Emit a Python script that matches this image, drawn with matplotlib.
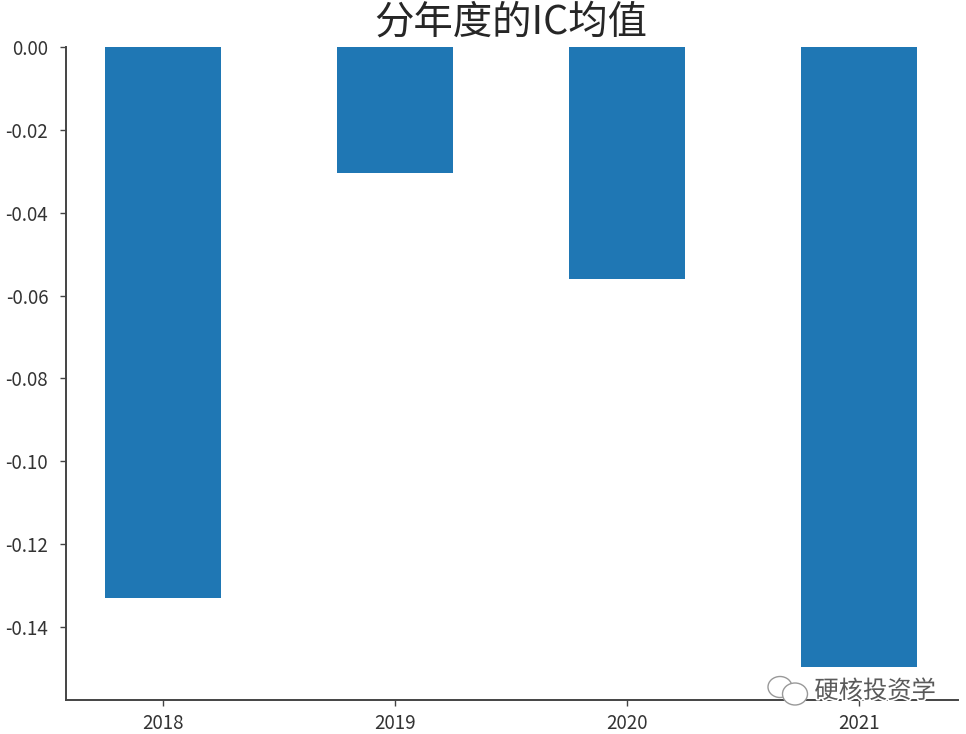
import matplotlib
matplotlib.use("Agg")
import matplotlib.pyplot as plt
import matplotlib.patheffects as pe
from matplotlib.patches import Ellipse

plt.rcParams['font.family'] = ['Noto Sans CJK SC', 'DejaVu Sans']
plt.rcParams['axes.unicode_minus'] = False

years = ['2018', '2019', '2020', '2021']
ic_mean = [-0.1331, -0.0304, -0.0559, -0.1496]
yticks = [0.00, -0.02, -0.04, -0.06, -0.08, -0.10, -0.12, -0.14]
title = '分年度的IC均值'
watermark = '硬核投资学'

W, H = 966, 734
fig = plt.figure(figsize=(W/100, H/100), dpi=100)
ax = fig.add_axes([66/W, 1-700/H, (958-66)/W, (700-47)/H])
x = list(range(len(years)))
ax.bar(x, ic_mean, width=0.5, color='#1f77b4')
ax.set_xlim(-0.418, 3.427)
ax.set_ylim(-0.1576, 0)
ax.set_xticks(x)
ax.set_xticklabels(years, fontsize=13.5, color='#333333')
ax.set_yticks(yticks)
ax.set_yticklabels([f'{v:.2f}' for v in yticks], fontsize=13.5, color='#333333')
for s in ['top', 'right']:
    ax.spines[s].set_visible(False)
for s in ['left', 'bottom']:
    ax.spines[s].set_linewidth(1.4)
    ax.spines[s].set_color('#444444')
ax.tick_params(axis='both', length=4.3, width=1, color='#444444')
ax.tick_params(axis='y', pad=8.5)
ax.tick_params(axis='x', pad=5)
fig.text(511/W, 1-22.5/H, title, fontsize=28.4, color='#262626', ha='center', va='center')
halo = [pe.withStroke(linewidth=2.5, foreground='white')]
fig.text(875/W, 1-691/H, watermark, fontsize=17.5, color='#5a5a5a', ha='center', va='center', path_effects=halo, zorder=5)
for (cx, cy, w, h) in [(780, 687, 24, 21), (795, 694, 25, 22)]:
    fig.add_artist(Ellipse((cx/W, 1-cy/H), w/W, h/H, transform=fig.transFigure, facecolor='white', edgecolor='#999999', linewidth=1.0, zorder=4))
fig.savefig('out.png', dpi=100)
